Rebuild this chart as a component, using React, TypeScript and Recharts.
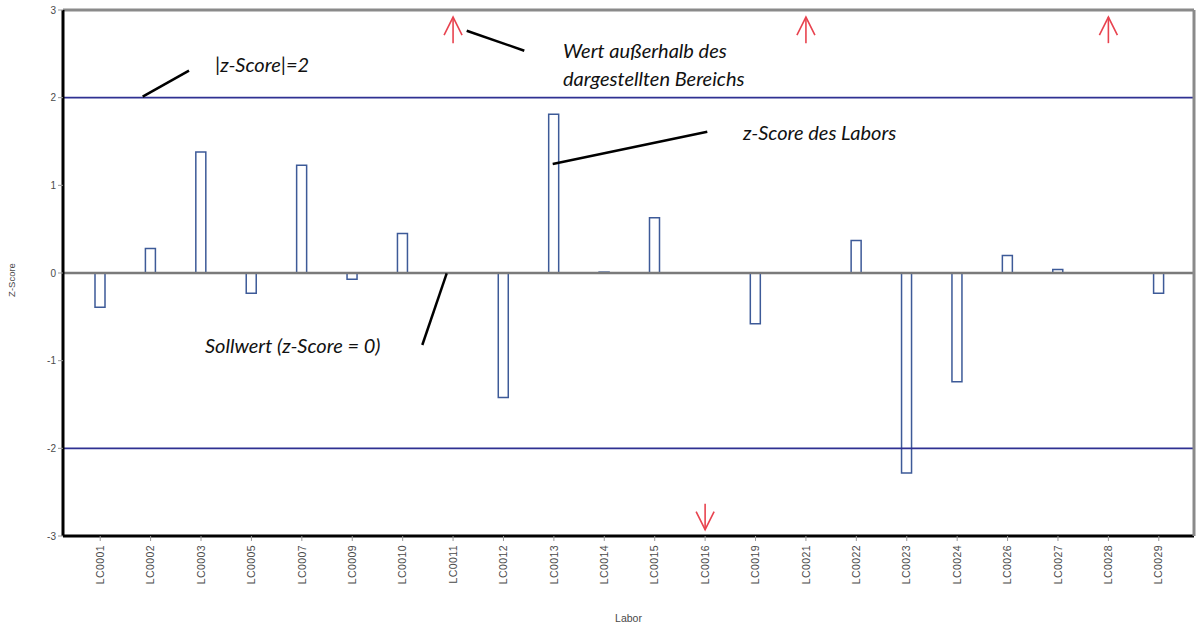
import { Bar, BarChart, ReferenceDot, ReferenceLine, XAxis, YAxis } from "recharts";

const LABS = [
  "LC0001", "LC0002", "LC0003", "LC0005", "LC0007", "LC0009", "LC0010", "LC0011",
  "LC0012", "LC0013", "LC0014", "LC0015", "LC0016", "LC0019", "LC0021", "LC0022",
  "LC0023", "LC0024", "LC0026", "LC0027", "LC0028", "LC0029",
];
// null = outside the plotted range, shown as arrow instead
const Z_SCORES = [
  -0.39, 0.28, 1.38, -0.23, 1.23, -0.07, 0.45, null,
  -1.42, 1.81, 0.01, 0.63, null, -0.58, null, 0.37,
  -2.28, -1.24, 0.2, 0.04, null, -0.23,
];
const ABOVE_RANGE = ["LC0011", "LC0021", "LC0028"];
const BELOW_RANGE = ["LC0016"];
const Y_TICKS = [-3, -2, -1, 0, 1, 2, 3];
const LIMIT = 2;

const W = 1197;
const H = 626;
const AXIS_TEXT = "#4a4a4a";
const BAR_EDGE = "#3d5a98";
const LIMIT_LINE = "#2e3192";
const FRAME = "#8a8a8a";
const ARROW = "#e8434f";
const NOTE_FONT = "Lato, 'Open Sans', sans-serif";
const TICK_FONT = "'Liberation Sans', Arial, sans-serif";

const data = LABS.map((lab, i) => ({ lab, z: Z_SCORES[i] }));

function LabTick({ x, y, payload }: any) {
  const ty = y + 2;
  return (
    <text
      x={x}
      y={ty}
      transform={`rotate(-90 ${x} ${ty})`}
      textAnchor="end"
      dy="0.35em"
      fill={AXIS_TEXT}
      fontSize={10.5}
      fontFamily={TICK_FONT}
      letterSpacing={0.4}
    >
      {payload.value}
    </text>
  );
}

function YTitle({ viewBox }: any) {
  const x = 12;
  const y = viewBox.y + viewBox.height / 2 + 7;
  return (
    <text
      x={x}
      y={y}
      transform={`rotate(-90 ${x} ${y})`}
      textAnchor="middle"
      dy="0.35em"
      fill={AXIS_TEXT}
      fontSize={9.5}
      fontFamily={TICK_FONT}
    >
      Z-Score
    </text>
  );
}

function Arrow({ cx, cy, down }: { cx: number; cy: number; down?: boolean }) {
  const s = down ? -1 : 1;
  return (
    <g stroke={ARROW} strokeWidth={1.6} fill="none">
      <line x1={cx} y1={cy - 13 * s} x2={cx} y2={cy + 13 * s} />
      <polyline points={`${cx - 9},${cy + 5 * s} ${cx},${cy - 13 * s} ${cx + 9},${cy + 5 * s}`} />
    </g>
  );
}

function Notes() {
  const t = { fontFamily: NOTE_FONT, fontStyle: "italic" as const, fontSize: 20, fill: "#111" };
  return (
    <svg width={W} height={H} style={{ position: "absolute", left: 0, top: 0, pointerEvents: "none" }}>
      <g stroke="#000" strokeWidth={2.5}>
        <line x1={142.7} y1={96.7} x2={189} y2={70.7} />
        <line x1={466.7} y1={30.7} x2={524.3} y2={50.7} />
        <line x1={552.7} y1={164} x2={707.3} y2={131.7} />
        <line x1={446.7} y1={273.3} x2={422.3} y2={345} />
      </g>
      <text x={215} y={72} {...t}>|z-Score|=2</text>
      <text x={563} y={58} {...t}>Wert außerhalb des</text>
      <text x={563} y={86} {...t}>dargestellten Bereichs</text>
      <text x={743} y={140} {...t}>z-Score des Labors</text>
      <text x={205} y={353} {...t}>Sollwert (z-Score = 0)</text>
    </svg>
  );
}

export default function App() {
  return (
    <div style={{ position: "absolute", left: 0, top: 0, width: W, height: H, background: "#fff" }}>
      <BarChart width={W} height={H} data={data} margin={{ top: 10, right: 2, left: 0, bottom: 0 }}>
        <XAxis
          dataKey="lab"
          interval={0}
          height={90}
          padding={{ left: 12, right: 10 }}
          axisLine={{ stroke: "#000", strokeWidth: 3 }}
          tickLine={{ stroke: "#999" }}
          tickSize={5}
          tick={<LabTick />}
          label={{ value: "Labor", position: "insideBottom", offset: 4, fill: AXIS_TEXT, fontSize: 10.5, fontFamily: TICK_FONT }}
        />
        <YAxis
          domain={[-3, 3]}
          ticks={Y_TICKS}
          width={63}
          axisLine={{ stroke: "#000", strokeWidth: 3 }}
          tickLine={{ stroke: "#999" }}
          tickSize={5}
          tick={{ fill: AXIS_TEXT, fontSize: 10, fontFamily: TICK_FONT }}
          label={<YTitle />}
        />
        <YAxis
          yAxisId="right"
          orientation="right"
          width={1}
          domain={[-3, 3]}
          tick={false}
          tickLine={false}
          axisLine={{ stroke: FRAME, strokeWidth: 3 }}
        />
        <ReferenceLine y={3} stroke={FRAME} strokeWidth={3} />
        <ReferenceLine y={LIMIT} stroke={LIMIT_LINE} strokeWidth={1.6} />
        <ReferenceLine y={-LIMIT} stroke={LIMIT_LINE} strokeWidth={1.6} />
        <ReferenceLine y={0} stroke="#7a7a7a" strokeWidth={2.5} />
        <Bar dataKey="z" barSize={10} fill="#fff" stroke={BAR_EDGE} strokeWidth={1.5} isAnimationActive={false} />
        {ABOVE_RANGE.map((lab) => (
          <ReferenceDot key={lab} x={lab} y={2.77} r={0} shape={(p: any) => <Arrow cx={p.cx} cy={p.cy} />} />
        ))}
        {BELOW_RANGE.map((lab) => (
          <ReferenceDot key={lab} x={lab} y={-2.78} r={0} shape={(p: any) => <Arrow cx={p.cx} cy={p.cy} down />} />
        ))}
      </BarChart>
      <Notes />
    </div>
  );
}
